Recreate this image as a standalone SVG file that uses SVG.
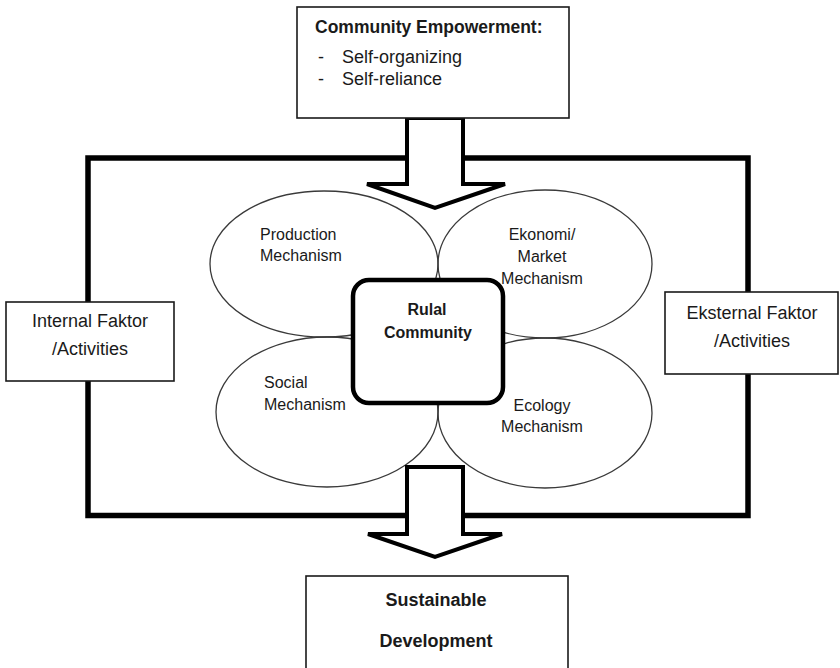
<svg xmlns="http://www.w3.org/2000/svg" width="840" height="668" viewBox="0 0 840 668">
<style>
.box{fill:#fff;stroke:#1a1a1a;stroke-width:1.6}
.ell{fill:none;stroke:#3a3a3a;stroke-width:1.3}
.frame{fill:none;stroke:#000;stroke-width:5.5}
.arrow{fill:#fff;stroke:#000;stroke-width:4;stroke-linejoin:miter}
.core{fill:#fff;stroke:#000;stroke-width:4.5}
text{font-family:"Liberation Sans",Arial,sans-serif;fill:#1a1a1a}
.t{font-size:18px}
.e{font-size:16px}
.b{font-weight:bold}
.c{text-anchor:middle}
</style>
<rect width="840" height="668" fill="#fff"/>
<g id="connectors">
<rect class="frame" x="88" y="158" width="660" height="357.5"/>
</g>
<g id="production">
<ellipse class="ell" cx="324" cy="264" rx="114" ry="73"/>
<text class="e" x="260" y="240">Production</text>
<text class="e" x="260" y="261">Mechanism</text>
</g>
<g id="ekonomi">
<ellipse class="ell" cx="545" cy="264" rx="107" ry="74"/>
<text class="e c" x="542" y="240">Ekonomi/</text>
<text class="e c" x="542" y="262">Market</text>
<text class="e c" x="542" y="284">Mechanism</text>
</g>
<g id="social">
<ellipse class="ell" cx="327" cy="412" rx="111" ry="75"/>
<text class="e" x="264" y="388">Social</text>
<text class="e" x="264" y="410">Mechanism</text>
</g>
<g id="ecology">
<ellipse class="ell" cx="545" cy="413" rx="107" ry="75"/>
<text class="e c" x="542" y="411">Ecology</text>
<text class="e c" x="542" y="432">Mechanism</text>
</g>
<g id="rulal-community">
<rect class="core" x="353" y="280" width="150" height="123" rx="16"/>
<text class="e b c" x="427" y="315">Rulal</text>
<text class="e b c" x="428" y="338">Community</text>
</g>
<g id="arrow-top">
<polygon class="arrow" points="407,118 463,118 463,184 505,184 435,208 367,184 407,184"/>
</g>
<g id="arrow-bottom">
<polygon class="arrow" points="407,467 463,467 463,534 502,534 435,557 368,534 407,534"/>
</g>
<g id="community-empowerment">
<rect class="box" x="297" y="7" width="272" height="111"/>
<text class="t b" x="315" y="33" style="font-size:17.5px">Community Empowerment:</text>
<text class="t" x="318" y="63">-</text>
<text class="t" x="342" y="63">Self-organizing</text>
<text class="t" x="318" y="85">-</text>
<text class="t" x="342" y="85">Self-reliance</text>
</g>
<g id="internal-faktor">
<rect class="box" x="6" y="302" width="168" height="79"/>
<text class="t c" x="90" y="327">Internal Faktor</text>
<text class="t c" x="90" y="355">/Activities</text>
</g>
<g id="eksternal-faktor">
<rect class="box" x="665" y="292" width="173" height="82"/>
<text class="t c" x="752" y="319">Eksternal Faktor</text>
<text class="t c" x="752" y="347">/Activities</text>
</g>
<g id="sustainable-development">
<rect class="box" x="306" y="576" width="262" height="94"/>
<text class="t b c" x="436" y="606">Sustainable</text>
<text class="t b c" x="436" y="647">Development</text>
</g>
</svg>
